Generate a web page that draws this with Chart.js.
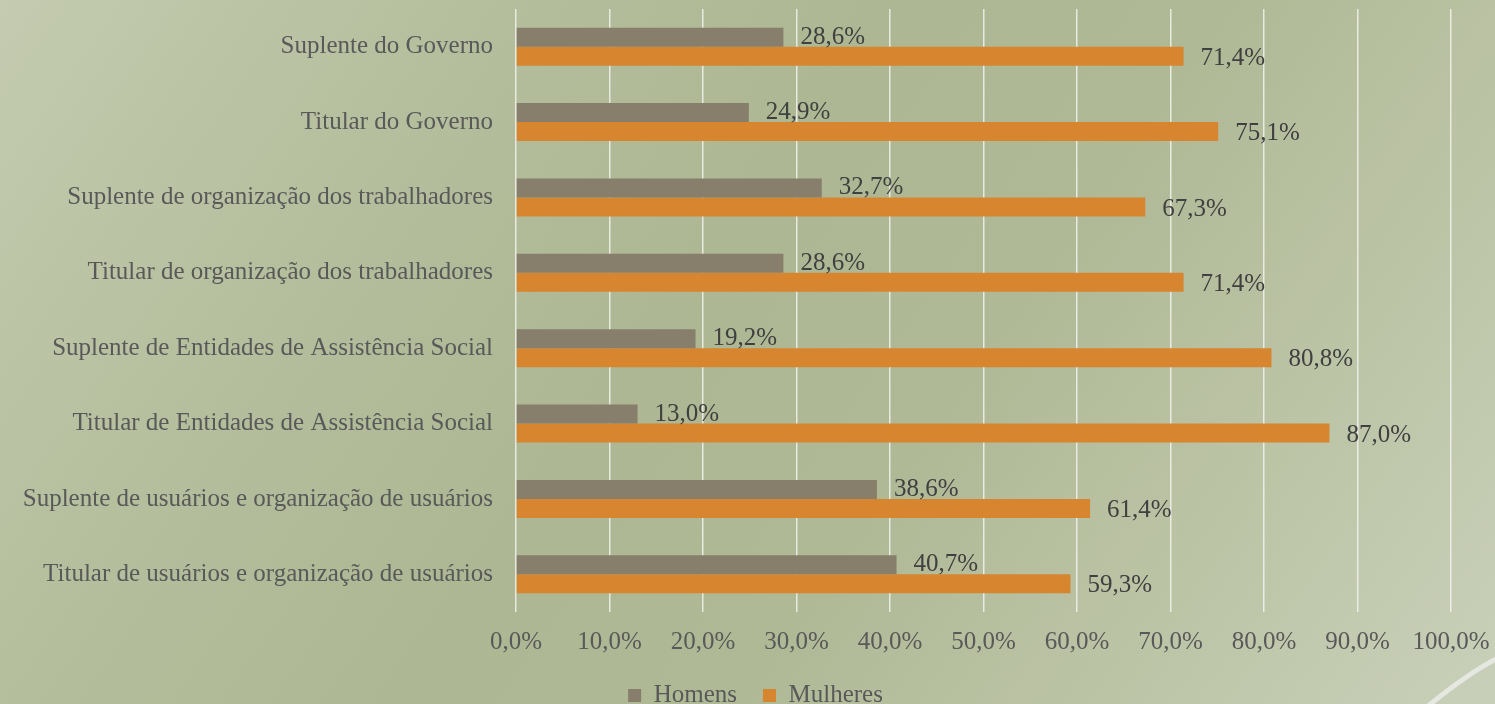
<!DOCTYPE html>
<html>
<head>
<meta charset="utf-8">
<script src="https://cdn.jsdelivr.net/npm/chart.js@4"></script>
<style>
    html, body { margin: 0; padding: 0; }
    body {
        width: 1495px;
        height: 704px;
        overflow: hidden;
        background: linear-gradient(125deg, #c4cbb0 0%, #b6bf9e 22%, #adb793 45%, #b0b996 62%, #bcc4a6 80%, #c9d0b9 100%);
    }
    #wrap { position: relative; width: 1495px; height: 704px; }
</style>
</head>
<body>
<div id="wrap"><canvas id="chart"></canvas></div>
<script>
const categories = [
    'Suplente do Governo',
    'Titular do Governo',
    'Suplente de organização dos trabalhadores',
    'Titular de organização dos trabalhadores',
    'Suplente de Entidades de Assistência Social',
    'Titular de Entidades de Assistência Social',
    'Suplente de usuários e organização de usuários',
    'Titular de usuários e organização de usuários'
];
const homens = [28.6, 24.9, 32.7, 28.6, 19.2, 13.0, 38.6, 40.7];
const mulheres = [71.4, 75.1, 67.3, 71.4, 80.8, 87.0, 61.4, 59.3];

const fontFamily = '"Liberation Serif", "Times New Roman", serif';

function formatPercent(value) {
    return value.toFixed(1).replace('.', ',') + '%';
}

// value text to the right of each bar
const barValueLabels = {
    id: 'barValueLabels',
    afterDatasetsDraw(chart) {
        const ctx = chart.ctx;
        ctx.save();
        ctx.font = '25px ' + fontFamily;
        ctx.fillStyle = '#404040';
        ctx.textAlign = 'left';
        ctx.textBaseline = 'middle';
        chart.data.datasets.forEach((ds, i) => {
            chart.getDatasetMeta(i).data.forEach((bar, j) => {
                ctx.fillText(formatPercent(ds.data[j]), bar.x + 17, bar.y + (i === 0 ? 0 : 2));
            });
        });
        ctx.restore();
    }
};

// light swoosh in the lower right corner
const cornerSwoosh = {
    id: 'cornerSwoosh',
    beforeDraw(chart) {
        const ctx = chart.ctx;
        ctx.save();
        ctx.strokeStyle = 'rgba(232, 234, 228, 0.9)';
        ctx.lineWidth = 5;
        ctx.lineCap = 'round';
        ctx.beginPath();
        ctx.moveTo(1428, 706);
        ctx.quadraticCurveTo(1470, 672, 1498, 658);
        ctx.stroke();
        ctx.restore();
    }
};

Chart.defaults.font.family = fontFamily;
Chart.defaults.font.size = 25;
Chart.defaults.color = '#595959';

const chart = new Chart(document.getElementById('chart'), {
    type: 'bar',
    data: {
        labels: categories,
        datasets: [
            {
                label: 'Homens',
                data: homens,
                backgroundColor: '#877e6c',
                borderWidth: 0,
                categoryPercentage: 0.505,
                barPercentage: 1.0
            },
            {
                label: 'Mulheres',
                data: mulheres,
                backgroundColor: '#d7852e',
                borderWidth: 0,
                categoryPercentage: 0.505,
                barPercentage: 1.0
            }
        ]
    },
    options: {
        indexAxis: 'y',
        animation: false,
        responsive: true,
        maintainAspectRatio: false,
        layout: {
            padding: { top: 9, left: 16, right: 0, bottom: -14 }
        },
        scales: {
            x: {
                min: 0,
                max: 100,
                grid: {
                    color: 'rgba(242, 242, 238, 0.85)',
                    lineWidth: 1.5,
                    drawTicks: false
                },
                border: { display: false },
                ticks: {
                    stepSize: 10,
                    padding: 15,
                    maxRotation: 0,
                    autoSkip: false,
                    color: '#595959',
                    callback: (value) => formatPercent(value)
                },
                afterFit(scale) {
                    scale.height = 45;
                    scale.paddingLeft = 0;
                    scale.paddingRight = 44;
                }
            },
            y: {
                grid: { display: false, drawTicks: false },
                border: { display: false },
                ticks: {
                    padding: 23,
                    color: '#595959',
                    autoSkip: false
                },
                afterFit(scale) {
                    scale.width = 500;
                    scale.paddingTop = 0;
                    scale.paddingBottom = 0;
                }
            }
        },
        plugins: {
            legend: {
                position: 'bottom',
                labels: {
                    boxWidth: 13,
                    boxHeight: 13,
                    padding: 26,
                    color: '#595959'
                }
            },
            tooltip: { enabled: false }
        }
    },
    plugins: [barValueLabels, cornerSwoosh]
});
</script>
</body>
</html>
